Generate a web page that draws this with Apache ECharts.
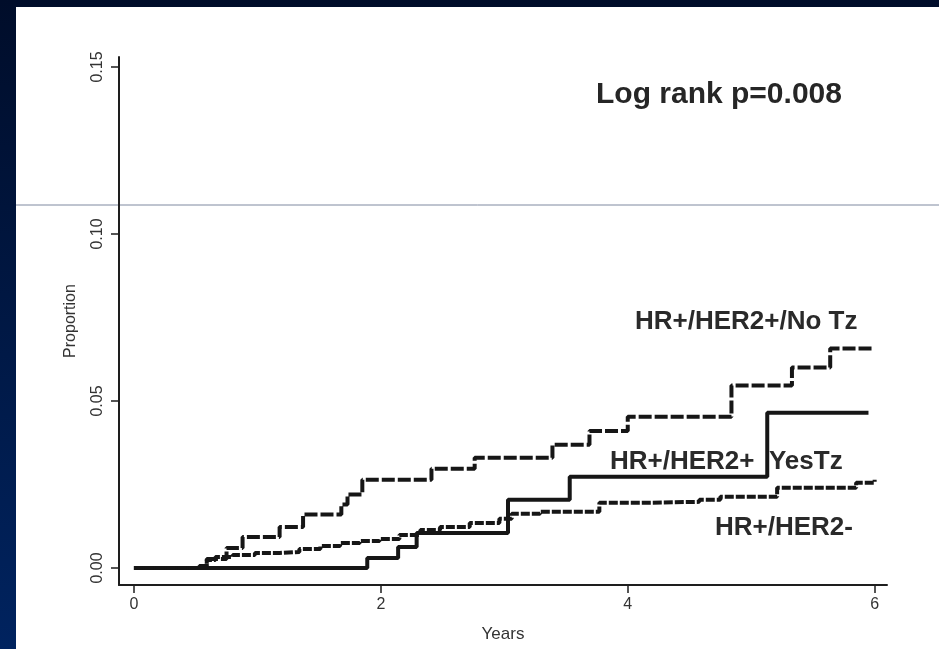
<!DOCTYPE html>
<html>
<head>
<meta charset="utf-8">
<script src="https://cdn.jsdelivr.net/npm/echarts@6/dist/echarts.min.js"></script>
<style>
html,body{margin:0;padding:0;background:#001030;}
#chart{width:939px;height:649px;}
</style>
</head>
<body>
<div id="chart"></div>
<script>
// Years (x) and cumulative proportion (y) at each step
const noTzYears = [0, 0.59, 0.75, 0.88, 1.18, 1.37, 1.68, 1.73, 1.85, 2.41, 2.76, 3.39, 3.69, 4.0, 4.84, 5.33, 5.64, 5.98];
const noTzProp  = [0, 0.0027, 0.006, 0.0093, 0.0123, 0.016, 0.019, 0.022, 0.0264, 0.0297, 0.033, 0.0369, 0.041, 0.0453, 0.0546, 0.060, 0.0657, 0.0657];

const yesTzYears = [0, 1.89, 2.14, 2.29, 3.03, 3.53, 5.13, 5.95];
const yesTzProp  = [0, 0.003, 0.0063, 0.0105, 0.0204, 0.0273, 0.0465, 0.0465];

const her2negYears = [0, 0.53, 0.59, 0.66, 0.80, 0.98, 1.18, 1.34, 1.51, 1.67, 1.83, 1.99, 2.15, 2.32, 2.48, 2.72, 2.96, 3.06, 3.29, 3.77, 4.10, 4.58, 4.75, 5.21, 5.85, 6.0];
const her2negProp  = [0, 0.0006, 0.0024, 0.0033, 0.0039, 0.0045, 0.0048, 0.0057, 0.0066, 0.0075, 0.0081, 0.0087, 0.0099, 0.0114, 0.0123, 0.0135, 0.0147, 0.0162, 0.0168, 0.0195, 0.0198, 0.0204, 0.0213, 0.0240, 0.0255, 0.0264];

const xTicks = [0, 2, 4, 6];
const yTicks = [0, 0.05, 0.10, 0.15];

const seriesNames = ['HR+/HER2+/No Tz', 'HR+/HER2+ YesTz', 'HR+/HER2-'];
const annotation = 'Log rank p=0.008';

function pairs(xs, ys){ return xs.map((x,i)=>[x, ys[i]]); }

const chart = echarts.init(document.getElementById('chart'), null, {renderer:'canvas'});
const lineColor = '#161616';
const font = '"Liberation Sans", Arial, sans-serif';

chart.setOption({
  backgroundColor: {type:'linear', x:0, y:0, x2:0, y2:1, colorStops:[{offset:0,color:'#000d2a'},{offset:1,color:'#00235f'}]},
  animation: false,
  grid: {left:119, right:52, top:57, bottom:64, containLabel:false},
  graphic: [
    {type:'rect', z:-10, shape:{x:16, y:7, width:923, height:642}, style:{fill:'#ffffff'}},
    {type:'line', z:-5, shape:{x1:16, y1:205, x2:939, y2:205}, style:{stroke:'#7f89a0', lineWidth:1}},
    {type:'text', z:100, left:596, top:80, style:{text:annotation, font:'bold 30px '+font, fill:'#262626'}},
    {type:'text', z:100, left:635, top:309, style:{text:seriesNames[0], font:'bold 26px '+font, fill:'#2a2a2a'}},
    {type:'text', z:100, left:610, top:449, style:{text:seriesNames[1].replace(' ', '  '), font:'bold 26px '+font, fill:'#2a2a2a'}},
    {type:'text', z:100, left:715, top:515, style:{text:seriesNames[2], font:'bold 26px '+font, fill:'#2a2a2a'}}
  ],
  xAxis: {
    type:'value', min:-0.121, max:6.1,
    name:'Years', nameLocation:'middle', nameGap:41,
    nameTextStyle:{fontFamily:font, fontSize:17, color:'#333'},
    axisLine:{onZero:false, lineStyle:{color:'#1e1e1e', width:2}},
    axisTick:{show:true, length:8, customValues:xTicks, lineStyle:{color:'#1e1e1e', width:1.5}},
    axisLabel:{customValues:xTicks, fontFamily:font, fontSize:16, color:'#333', margin:12},
    splitLine:{show:false}
  },
  yAxis: {
    type:'value', min:-0.0051, max:0.153,
    name:'Proportion', nameLocation:'middle', nameGap:40, nameRotate:90,
    nameTextStyle:{fontFamily:font, fontSize:16, color:'#333'},
    axisLine:{onZero:false, lineStyle:{color:'#1e1e1e', width:2}},
    axisTick:{show:true, length:8, customValues:yTicks, lineStyle:{color:'#1e1e1e', width:1.5}},
    axisLabel:{customValues:yTicks, rotate:90, fontFamily:font, fontSize:16, color:'#333', margin:13,
      formatter:v=>v.toFixed(2)},
    splitLine:{show:false}
  },
  series: [
    {name:seriesNames[0], type:'line', step:'end', showSymbol:false, data:pairs(noTzYears, noTzProp),
      lineStyle:{color:lineColor, width:4, type:[13,3]}},
    {name:seriesNames[1], type:'line', step:'end', showSymbol:false, data:pairs(yesTzYears, yesTzProp),
      lineStyle:{color:lineColor, width:4, type:'solid'}},
    {name:seriesNames[2], type:'line', step:'end', showSymbol:false, data:pairs(her2negYears, her2negProp),
      lineStyle:{color:lineColor, width:4, type:[9,2]}}
  ]
});
</script>
</body>
</html>
